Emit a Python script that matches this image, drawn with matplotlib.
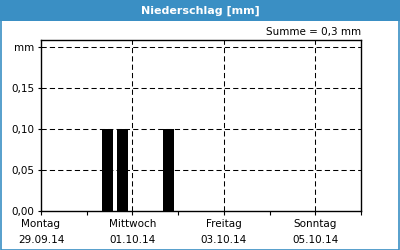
import matplotlib
matplotlib.use("Agg")
import matplotlib.pyplot as plt
import matplotlib.dates as mdates
from matplotlib.patches import Rectangle
import pandas as pd

# data
bar_start = pd.to_datetime(["2014-09-30 08:00", "2014-09-30 16:00", "2014-10-01 16:00"])
values = [0.1, 0.1, 0.1]
bar_width = 0.24  # days
tick_days = pd.date_range("2014-09-29", "2014-10-06", freq="D")
label_days = ["Montag", "", "Mittwoch", "", "Freitag", "", "Sonntag", ""]
y_ticks = [0.0, 0.05, 0.10, 0.15, 0.20]
y_labels = ["0,00", "0,05", "0,10", "0,15", "mm"]
title = "Niederschlag [mm]"
summe = "Summe = 0,3 mm"

blue = "#3a8fc4"
plt.rcParams["font.family"] = ["DejaVu Sans"]
plt.rcParams["font.size"] = 7.5

fig = plt.figure(figsize=(4, 2.5), dpi=100)
fig.patches.append(Rectangle((0, 1 - 21 / 250), 1, 21 / 250, transform=fig.transFigure,
                             facecolor=blue, edgecolor="none", zorder=0))
fig.patches.append(Rectangle((0.0015, 0.002), 0.997, 0.996, transform=fig.transFigure,
                             facecolor="none", edgecolor=blue, linewidth=1.2, zorder=1))
fig.text(0.5, 1 - 10.5 / 250, title, color="white", fontweight="bold",
         ha="center", va="center", fontsize=8)

ax = fig.add_axes([41 / 400, 39 / 250, 320 / 400, 171 / 250])
x = mdates.date2num(bar_start)
ax.bar(x, values, width=bar_width, align="edge", color="black", zorder=3)

x0 = mdates.date2num(tick_days[0])
x1 = mdates.date2num(tick_days[-1])
ax.set_xlim(x0, x1)
ax.set_ylim(0, 0.2085)

tnum = mdates.date2num(tick_days)
ax.set_xticks(tnum)
lbls = []
for d, name in zip(tick_days, label_days):
    lbls.append(f"{name}\n{d.strftime('%d.%m.%y')}" if name else "")
ax.set_xticklabels(lbls, linespacing=1.65)
ax.tick_params(axis="x", length=3, width=0.8, pad=3)
ax.set_yticks(y_ticks)
ax.set_yticklabels(y_labels)
ax.tick_params(axis="y", length=2, width=0.8, pad=3)

dash = (0, (5, 3))
for v in y_ticks[1:]:
    ax.axhline(v, color="black", linestyle=dash, linewidth=0.75, zorder=1)
for d in tnum[2:-1:2]:
    ax.axvline(d, color="black", linestyle=dash, linewidth=0.75, zorder=1)

for s in ax.spines.values():
    s.set_linewidth(1)

fig.text(361 / 400, 1 - 32 / 250, summe, ha="right", va="center")

fig.savefig("out.png", dpi=100)
